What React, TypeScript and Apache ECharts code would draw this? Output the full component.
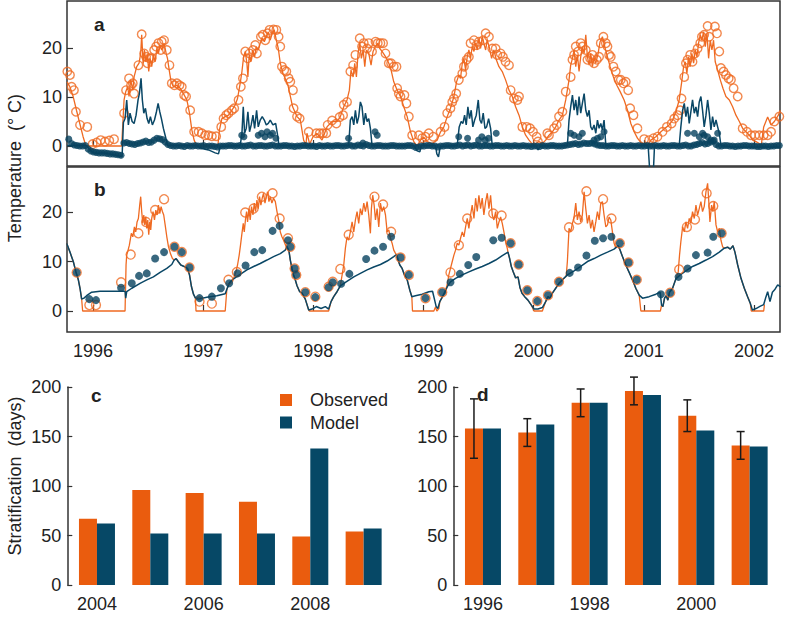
import React, { useEffect, useRef } from 'react';
import * as echarts from 'echarts';

// ---------- Panel c / d data ----------
const cYears = ['2004', '2005', '2006', '2007', '2008', '2009'];
const cObserved = [67, 96, 93, 84, 49, 54];
const cModel = [62, 52, 52, 52, 138, 57];

const dYears = ['1996', '1997', '1998', '1999', '2000', '2001'];
const dObserved = [158, 154, 184, 196, 171, 141];
const dModel = [158, 162, 184, 192, 156, 140];
const dErrLow = [128, 140, 170, 182, 155, 127];
const dErrHigh = [188, 168, 198, 210, 187, 155];

const yearTicks = [1996, 1997, 1998, 1999, 2000, 2001, 2002];
const tempTicks = [0, 10, 20];

// ---------- Panel a data ----------
const aSurfModel = [
  [1995.765, 13.1], [1995.79, 12.1], [1995.82, 10.1], [1995.85, 7.3], [1995.88, 4.6], [1995.91, 1.9], [1995.936, 0], [1996.26, 0],
  [1996.282, 9.4], [1996.297, 11.1], [1996.315, 12.1], [1996.327, 10.1], [1996.342, 13.5], [1996.361, 11.4], [1996.373, 14.1],
  [1996.397, 16.2], [1996.418, 16.9], [1996.433, 18.9], [1996.442, 22.7], [1996.455, 16.9], [1996.467, 19.6], [1996.479, 17.2],
  [1996.494, 18.6], [1996.506, 15.2], [1996.518, 17.9], [1996.533, 16.2], [1996.548, 18.6], [1996.564, 17.2], [1996.579, 19.9],
  [1996.594, 18.9], [1996.609, 20.6], [1996.624, 19.6], [1996.645, 21.0], [1996.664, 18.9], [1996.676, 17.9], [1996.694, 15.2],
  [1996.709, 13.1], [1996.73, 12.1], [1996.761, 12.4], [1996.791, 11.8], [1996.821, 10.7], [1996.852, 9.4], [1996.876, 6.7],
  [1996.897, 3.3], [1996.918, 1.2], [1996.942, 0], [1997.133, 0], [1997.148, 3.3], [1997.17, 5.6], [1997.2, 6.0], [1997.23, 6.3],
  [1997.261, 7.3], [1997.291, 8.4], [1997.312, 9.7], [1997.336, 12.8], [1997.352, 15.2], [1997.367, 18.2], [1997.382, 19.3],
  [1997.397, 16.9], [1997.406, 14.1], [1997.418, 18.6], [1997.433, 17.2], [1997.448, 19.6], [1997.467, 18.2], [1997.482, 20.3],
  [1997.5, 19.6], [1997.518, 21.0], [1997.536, 22.0], [1997.555, 21.3], [1997.573, 22.3], [1997.591, 23.3], [1997.609, 21.6],
  [1997.627, 23.0], [1997.645, 23.7], [1997.664, 21.6], [1997.682, 19.9], [1997.7, 16.9], [1997.724, 14.8], [1997.745, 13.8],
  [1997.77, 12.4], [1997.812, 8.0], [1997.852, 6.0], [1997.882, 5.3], [1997.912, 1.2], [1997.933, 0.2], [1997.942, 2.6],
  [1997.967, 0.4], [1997.997, 1.9], [1998.033, 2.6], [1998.079, 1.2], [1998.124, 3.9], [1998.17, 5.0], [1998.215, 5.0],
  [1998.245, 6.0], [1998.276, 8.0], [1998.306, 9.4], [1998.327, 11.4], [1998.342, 15.5], [1998.361, 14.1], [1998.376, 16.9],
  [1998.391, 14.1], [1998.406, 18.9], [1998.421, 21.0], [1998.436, 17.9], [1998.452, 19.6], [1998.467, 16.2], [1998.482, 19.6],
  [1998.503, 18.9], [1998.524, 16.5], [1998.542, 19.3], [1998.564, 20.3], [1998.585, 21.0], [1998.603, 19.9], [1998.624, 19.3],
  [1998.645, 18.6], [1998.664, 17.9], [1998.685, 16.9], [1998.706, 15.5], [1998.73, 13.1], [1998.761, 11.4], [1998.791, 10.1],
  [1998.821, 8.0], [1998.852, 6.0], [1998.882, 2.9], [1998.912, 0.9], [1998.942, 0], [1998.973, 1.2], [1999.003, 1.8],
  [1999.033, 0.9], [1999.079, 0.5], [1999.124, 1.2], [1999.155, 2.9], [1999.185, 3.9], [1999.215, 6.0], [1999.245, 7.7],
  [1999.276, 10.1], [1999.3, 13.1], [1999.321, 14.5], [1999.336, 13.8], [1999.352, 16.9], [1999.367, 17.9], [1999.382, 15.5],
  [1999.397, 18.2], [1999.412, 19.6], [1999.427, 17.9], [1999.442, 20.3], [1999.458, 19.3], [1999.473, 21.0], [1999.488, 19.6],
  [1999.503, 22.0], [1999.518, 19.9], [1999.533, 22.3], [1999.548, 21.0], [1999.564, 19.6], [1999.579, 21.6], [1999.6, 19.9],
  [1999.618, 17.9], [1999.639, 19.6], [1999.661, 17.6], [1999.685, 16.2], [1999.715, 15.2], [1999.745, 13.5], [1999.776, 11.4],
  [1999.806, 10.1], [1999.836, 8.0], [1999.867, 6.3], [1999.897, 3.9], [1999.927, 2.2], [1999.958, 1.2], [1999.988, 0.4],
  [2000.018, 0.5], [2000.048, 0.9], [2000.079, 0.5], [2000.109, 1.2], [2000.139, 2.2], [2000.17, 2.9], [2000.2, 3.9],
  [2000.23, 5.3], [2000.261, 6.3], [2000.291, 9.4], [2000.321, 13.5], [2000.336, 16.5], [2000.352, 17.9], [2000.367, 19.6],
  [2000.382, 16.2], [2000.397, 18.6], [2000.412, 15.2], [2000.427, 18.2], [2000.442, 20.3], [2000.458, 18.9], [2000.473, 22.7],
  [2000.488, 18.2], [2000.503, 16.5], [2000.518, 18.9], [2000.533, 16.2], [2000.548, 17.9], [2000.564, 16.9], [2000.585, 18.9],
  [2000.603, 21.3], [2000.624, 22.3], [2000.645, 20.3], [2000.67, 18.2], [2000.694, 16.2], [2000.724, 14.1], [2000.755, 12.4],
  [2000.785, 11.1], [2000.821, 9.4], [2000.852, 7.3], [2000.882, 4.6], [2000.912, 2.9], [2000.942, 1.6], [2000.973, 0.7],
  [2001.003, 0.4], [2001.033, 0.2], [2001.064, 1.2], [2001.109, 1.9], [2001.155, 2.9], [2001.191, 3.6], [2001.23, 4.3],
  [2001.261, 5.3], [2001.291, 7.0], [2001.321, 9.4], [2001.342, 12.8], [2001.361, 16.2], [2001.376, 17.2], [2001.391, 14.8],
  [2001.406, 18.2], [2001.421, 16.2], [2001.436, 18.9], [2001.452, 16.9], [2001.467, 19.6], [2001.482, 18.2], [2001.497, 21.0],
  [2001.512, 22.7], [2001.527, 21.6], [2001.542, 23.3], [2001.558, 20.3], [2001.573, 23.0], [2001.588, 17.9], [2001.603, 21.6],
  [2001.618, 19.6], [2001.633, 21.6], [2001.648, 17.2], [2001.67, 15.5], [2001.694, 13.5], [2001.718, 11.8], [2001.745, 10.1],
  [2001.776, 9.4], [2001.806, 8.0], [2001.836, 6.3], [2001.867, 5.0], [2001.897, 3.6], [2001.927, 2.9], [2001.958, 2.2],
  [2001.988, 1.2], [2002.018, 0.9], [2002.048, 0.5], [2002.065, 0], [2002.088, 3.9], [2002.124, 5.9], [2002.155, 4.3],
  [2002.185, 5.0], [2002.221, 6.3], [2002.239, 7.3],
];

const aSurfObs = [
  [1995.767, 15.2], [1995.791, 14.5], [1995.806, 12.1], [1995.827, 11.4], [1995.845, 7.0], [1995.882, 4.3], [1995.948, 3.9],
  [1995.997, 0.4], [1996.033, 0.7], [1996.07, 1.2], [1996.109, 0.9], [1996.148, 1.1], [1996.191, 1.4], [1996.282, 6.7],
  [1996.3, 11.4], [1996.327, 13.8], [1996.345, 12.4], [1996.361, 12.8], [1996.373, 10.7], [1996.412, 16.5], [1996.442, 22.8],
  [1996.464, 18.9], [1996.482, 18.2], [1996.494, 16.9], [1996.512, 17.9], [1996.533, 17.9], [1996.555, 19.6], [1996.573, 20.3],
  [1996.594, 21.0], [1996.615, 19.6], [1996.624, 21.3], [1996.645, 21.6], [1996.67, 19.6], [1996.694, 16.5], [1996.715, 12.8],
  [1996.739, 12.4], [1996.761, 12.8], [1996.785, 12.4], [1996.806, 12.1], [1996.827, 10.4], [1996.845, 10.1], [1996.882, 7.3],
  [1996.918, 2.9], [1996.958, 2.9], [1996.988, 2.6], [1997.018, 2.2], [1997.048, 2.2], [1997.079, 2.0], [1997.118, 2.0],
  [1997.164, 3.9], [1997.185, 5.6], [1997.209, 6.3], [1997.23, 6.7], [1997.261, 7.3], [1997.282, 7.7], [1997.321, 9.4],
  [1997.342, 12.1], [1997.361, 13.8], [1997.382, 19.3], [1997.403, 17.9], [1997.421, 18.9], [1997.452, 19.6], [1997.473, 20.6],
  [1997.488, 18.9], [1997.524, 22.3], [1997.542, 22.7], [1997.564, 21.6], [1997.585, 23.0], [1997.603, 23.7], [1997.639, 23.8],
  [1997.664, 23.7], [1997.685, 22.3], [1997.7, 20.3], [1997.715, 16.2], [1997.736, 15.5], [1997.755, 15.2], [1997.776, 13.8],
  [1997.791, 13.1], [1997.815, 11.4], [1997.821, 7.7], [1997.852, 6.0], [1997.876, 5.6], [1997.958, 2.9], [1998.027, 2.6],
  [1998.058, 2.6], [1998.088, 2.6], [1998.118, 2.6], [1998.13, 4.3], [1998.17, 5.2], [1998.209, 4.6], [1998.239, 5.9],
  [1998.27, 6.3], [1998.276, 8.4], [1998.306, 9.0], [1998.336, 15.2], [1998.361, 16.5], [1998.382, 18.6], [1998.421, 22.0],
  [1998.442, 20.3], [1998.458, 21.0], [1998.488, 19.9], [1998.503, 21.0], [1998.533, 19.3], [1998.564, 21.3], [1998.585, 21.0],
  [1998.609, 21.0], [1998.633, 21.0], [1998.655, 18.9], [1998.685, 16.9], [1998.706, 16.9], [1998.73, 16.2], [1998.755, 16.2],
  [1998.761, 11.8], [1998.776, 10.7], [1998.791, 10.1], [1998.827, 10.4], [1998.845, 8.7], [1998.867, 6.0], [1998.897, 2.2],
  [1998.958, 2.2], [1998.988, 1.6], [1999.018, 1.9], [1999.048, 2.6], [1999.088, 1.9], [1999.155, 2.9], [1999.191, 3.9],
  [1999.215, 6.7], [1999.245, 7.7], [1999.261, 9.0], [1999.276, 9.7], [1999.297, 10.7], [1999.321, 13.5], [1999.352, 14.8],
  [1999.367, 16.2], [1999.391, 17.6], [1999.412, 18.2], [1999.427, 21.0], [1999.458, 21.6], [1999.482, 20.6], [1999.503, 21.3],
  [1999.542, 21.6], [1999.564, 23.0], [1999.594, 22.3], [1999.624, 19.9], [1999.655, 19.9], [1999.67, 18.6], [1999.7, 18.9],
  [1999.721, 18.2], [1999.745, 17.2], [1999.776, 16.5], [1999.791, 11.4], [1999.821, 9.7], [1999.852, 9.4], [1999.867, 10.1],
  [1999.897, 3.9], [1999.936, 3.9], [1999.967, 3.6], [1999.994, 2.9], [2000.027, 1.9], [2000.039, 0.9], [2000.124, 2.6],
  [2000.139, 2.2], [2000.185, 3.6], [2000.209, 4.3], [2000.23, 6.0], [2000.261, 7.0], [2000.291, 11.1], [2000.336, 14.1],
  [2000.352, 17.6], [2000.367, 18.6], [2000.382, 20.3], [2000.403, 19.3], [2000.427, 21.0], [2000.442, 20.3], [2000.473, 19.6],
  [2000.488, 17.6], [2000.512, 17.9], [2000.533, 18.6], [2000.548, 16.9], [2000.573, 17.6], [2000.594, 18.2], [2000.609, 21.0],
  [2000.633, 22.3], [2000.655, 21.0], [2000.67, 20.3], [2000.685, 18.6], [2000.7, 18.2], [2000.724, 16.2], [2000.745, 15.2],
  [2000.77, 13.5], [2000.791, 13.5], [2000.815, 12.8], [2000.836, 13.1], [2000.858, 11.4], [2000.876, 7.7], [2000.906, 6.3],
  [2000.942, 3.6], [2001.003, 1.4], [2001.048, 1.2], [2001.088, 1.6], [2001.124, 1.9], [2001.17, 2.9], [2001.209, 3.9],
  [2001.252, 4.6], [2001.276, 5.6], [2001.306, 6.3], [2001.33, 7.3], [2001.342, 9.7], [2001.367, 14.1], [2001.382, 16.9],
  [2001.397, 17.6], [2001.421, 18.6], [2001.442, 17.2], [2001.464, 18.9], [2001.488, 19.9], [2001.512, 21.0], [2001.527, 22.3],
  [2001.548, 22.7], [2001.579, 24.5], [2001.594, 22.3], [2001.645, 24.4], [2001.664, 23.0], [2001.685, 19.3], [2001.7, 15.9],
  [2001.724, 15.2], [2001.745, 14.5], [2001.77, 13.8], [2001.791, 13.5], [2001.815, 11.8], [2001.852, 10.1], [2001.897, 3.6],
  [2001.936, 2.9], [2001.973, 2.2], [2002.009, 2.2], [2002.048, 2.2], [2002.088, 2.2], [2002.124, 2.2], [2002.155, 2.9],
  [2002.185, 5.0], [2002.23, 6.0],
];

const aBotModel = [
  [1995.765, 0.1], [1995.942, 0.1], [1995.973, -0.8], [1996.003, -1.4], [1996.048, -1.5], [1996.094, -1.4], [1996.139, -1.6],
  [1996.185, -1.8], [1996.23, -2.0], [1996.264, -2.2], [1996.276, 4.8], [1996.291, 5.6], [1996.306, 9.4], [1996.321, 4.3],
  [1996.336, 6.7], [1996.355, 5.0], [1996.373, 4.6], [1996.391, 6.3], [1996.409, 9.4], [1996.421, 10.7], [1996.436, 13.8],
  [1996.448, 9.4], [1996.461, 6.7], [1996.476, 7.7], [1996.491, 5.6], [1996.506, 4.6], [1996.521, 6.0], [1996.539, 4.3],
  [1996.558, 5.3], [1996.576, 7.0], [1996.591, 8.7], [1996.606, 7.0], [1996.621, 5.6], [1996.639, 3.6], [1996.658, 1.9],
  [1996.676, 0.1], [1996.942, 0.1], [1996.988, -0.5], [1997.048, -0.8], [1997.109, -1.4], [1997.139, -1.6], [1997.155, -0.1],
  [1997.336, 0.1], [1997.352, 2.6], [1997.364, 8.0], [1997.376, 2.6], [1997.391, 3.6], [1997.406, 7.0], [1997.421, 2.9],
  [1997.436, 4.3], [1997.452, 6.3], [1997.467, 3.6], [1997.485, 7.3], [1997.5, 3.9], [1997.518, 5.3], [1997.536, 6.0],
  [1997.555, 5.3], [1997.573, 4.3], [1997.591, 4.6], [1997.609, 5.3], [1997.633, 4.3], [1997.658, 4.6], [1997.673, 2.6],
  [1997.688, 0.1], [1998.321, 0.1], [1998.336, 5.3], [1998.352, 6.0], [1998.367, 4.3], [1998.382, 7.3], [1998.397, 4.6],
  [1998.412, 6.0], [1998.427, 9.0], [1998.442, 8.0], [1998.458, 4.3], [1998.473, 6.7], [1998.488, 5.0], [1998.503, 5.6],
  [1998.518, 3.6], [1998.533, 0.1], [1998.912, 0.1], [1998.942, -1.0], [1998.967, -1.2], [1998.979, 0.1], [1999.109, 0.1],
  [1999.121, -1.6], [1999.136, -2.2], [1999.152, -0.1], [1999.306, 0.1], [1999.324, 3.9], [1999.342, 5.0], [1999.358, 4.6],
  [1999.373, 6.3], [1999.388, 4.3], [1999.403, 8.0], [1999.418, 5.6], [1999.433, 7.3], [1999.448, 3.9], [1999.464, 5.3],
  [1999.479, 6.3], [1999.497, 9.4], [1999.512, 5.3], [1999.527, 4.6], [1999.542, 6.7], [1999.558, 3.6], [1999.573, 3.9],
  [1999.591, 5.6], [1999.609, 3.6], [1999.624, 0.1], [2000.02, 0.0], [2000.04, -0.8], [2000.06, 0.0], [2000.306, 0.1],
  [2000.321, 5.3], [2000.336, 8.0], [2000.352, 10.4], [2000.367, 7.3], [2000.382, 9.4], [2000.397, 6.3], [2000.412, 10.1],
  [2000.427, 6.7], [2000.442, 8.7], [2000.458, 10.7], [2000.473, 7.3], [2000.488, 6.0], [2000.503, 7.3], [2000.518, 3.9],
  [2000.533, 3.3], [2000.548, 4.3], [2000.564, 2.6], [2000.579, 5.3], [2000.594, 3.6], [2000.609, 4.6], [2000.624, 3.3],
  [2000.639, 5.3], [2000.655, 0.1], [2001.039, 0.1], [2001.052, -4.5], [2001.088, -4.5], [2001.097, 0.1], [2001.321, 0.1],
  [2001.336, 3.9], [2001.352, 7.3], [2001.367, 8.7], [2001.382, 6.0], [2001.397, 8.0], [2001.412, 4.6], [2001.427, 7.0],
  [2001.442, 9.4], [2001.458, 6.7], [2001.473, 8.0], [2001.488, 6.0], [2001.503, 9.0], [2001.518, 10.1], [2001.533, 7.3],
  [2001.548, 3.9], [2001.564, 6.3], [2001.579, 9.4], [2001.594, 6.7], [2001.609, 3.3], [2001.624, 6.0], [2001.639, 3.9],
  [2001.655, 5.3], [2001.67, 3.9], [2001.685, 2.6], [2001.7, 0.1], [2001.8, -0.2], [2002.236, -0.2],
];

const aBotObs = [
  [1995.78, 1.4], [1995.83, 0.2], [1995.88, 0.0], [1995.93, 0.1], [1995.98, -1.0], [1996.03, -1.3], [1996.08, -1.4],
  [1996.13, -1.5], [1996.18, -1.6], [1996.23, -1.8], [1996.28, 0.6], [1996.33, 0.5], [1996.38, 0.3], [1996.43, 0.6],
  [1996.48, 1.0], [1996.53, 0.8], [1996.58, 1.6], [1996.63, 1.3], [1996.68, 0.3], [1996.73, 0.0], [1996.78, 0.1],
  [1996.83, -0.1], [1996.88, 0.0], [1996.93, 0.1], [1996.98, 0.0], [1997.03, -0.1], [1997.08, 0.0], [1997.13, -0.2],
  [1997.18, 0.0], [1997.23, 0.1], [1997.28, 0.0], [1997.33, 0.1], [1997.38, 0.0], [1997.43, 0.2], [1997.48, 0.0],
  [1997.53, 0.1], [1997.58, 0.0], [1997.63, 0.2], [1997.68, 0.0], [1997.73, 0.1], [1997.78, 0.0], [1997.83, -0.1],
  [1997.88, 0.0], [1997.93, 0.1], [1997.98, 0.0], [1998.03, -0.1], [1998.08, 0.0], [1998.13, 0.1], [1998.18, 0.0],
  [1998.23, 0.1], [1998.28, 0.0], [1998.33, 0.2], [1998.38, 0.0], [1998.43, 0.1], [1998.48, 0.3], [1998.53, 0.0],
  [1998.58, 0.1], [1998.63, 0.0], [1998.68, 0.0], [1998.73, 0.1], [1998.78, 0.0], [1998.83, 0.0], [1998.88, 0.1],
  [1998.93, -0.3], [1998.98, 0.0], [1999.03, 0.1], [1999.08, 0.0], [1999.13, -0.2], [1999.18, 0.0], [1999.23, 0.1],
  [1999.28, 0.0], [1999.33, 0.2], [1999.38, 0.1], [1999.43, 0.0], [1999.48, 0.2], [1999.53, 0.0], [1999.58, 0.1],
  [1999.63, 0.0], [1999.68, 0.1], [1999.73, 0.0], [1999.78, 0.0], [1999.83, 0.1], [1999.88, 0.0], [1999.93, 0.0],
  [1999.98, -0.1], [2000.03, 0.0], [2000.08, 0.1], [2000.13, 0.0], [2000.18, 0.1], [2000.23, 0.0], [2000.28, 0.1],
  [2000.33, 0.3], [2000.38, 0.5], [2000.43, 0.4], [2000.48, 0.5], [2000.53, 0.6], [2000.58, 0.2], [2000.63, 0.1],
  [2000.68, 0.0], [2000.73, 0.1], [2000.78, 0.0], [2000.83, 0.0], [2000.88, 0.1], [2000.93, 0.0], [2000.98, 0.0],
  [2001.03, 0.1], [2001.08, 0.0], [2001.13, 0.0], [2001.18, 0.1], [2001.23, 0.0], [2001.28, 0.1], [2001.33, 0.0],
  [2001.38, 0.2], [2001.43, 0.0], [2001.48, 0.3], [2001.53, 0.7], [2001.58, 0.5], [2001.63, 1.0], [2001.68, 0.0],
  [2001.73, 0.1], [2001.78, 0.0], [2001.83, -0.1], [2001.88, 0.0], [2001.93, 0.1], [2001.98, 0.0], [2002.03, -0.1],
  [2002.08, 0.0], [2002.13, -0.1], [2002.18, 0.0], [2002.23, 0.1],
  [1995.805, 0.5], [1995.855, 0.1], [1995.905, 0.0], [1995.955, -0.6], [1996.005, -1.2], [1996.055, -1.4], [1996.105, -1.4],
  [1996.155, -1.6], [1996.205, -1.7], [1996.255, -1.9], [1996.305, 0.7], [1996.355, 0.4], [1996.405, 0.5], [1996.455, 0.8],
  [1996.505, 0.7], [1996.555, 1.2], [1996.605, 1.5], [1996.655, 0.8], [1996.705, 0.1], [1996.755, 0.0], [1996.805, 0.0],
  [1996.855, 0.1], [1996.905, 0.0], [1996.955, 0.0], [1997.005, 0.1], [1997.055, 0.0], [1997.105, -0.1], [1997.155, 0.0],
  [1997.205, 0.0], [1997.255, 0.1], [1997.305, 0.0], [1997.355, 0.0], [1997.405, 0.1], [1997.455, 0.0], [1997.505, 0.1],
  [1997.555, 0.0], [1997.605, 0.1], [1997.655, 0.0], [1997.705, 0.0], [1997.755, 0.1], [1997.805, 0.0], [1997.855, 0.0],
  [1997.905, 0.1], [1997.955, 0.0], [1998.005, 0.0], [1998.055, 0.1], [1998.105, 0.0], [1998.155, 0.0], [1998.205, 0.1],
  [1998.255, 0.0], [1998.305, 0.1], [1998.355, 0.0], [1998.405, 0.2], [1998.455, 0.0], [1998.505, 0.1], [1998.555, 0.0],
  [1998.605, 0.1], [1998.655, 0.0], [1998.705, 0.1], [1998.755, 0.0], [1998.805, 0.0], [1998.855, 0.1], [1998.905, 0.0],
  [1998.955, -0.2], [1999.005, 0.0], [1999.055, 0.1], [1999.105, 0.0], [1999.155, 0.0], [1999.205, 0.1], [1999.255, 0.0],
  [1999.305, 0.1], [1999.355, 0.0], [1999.405, 0.2], [1999.455, 0.1], [1999.505, 0.0], [1999.555, 0.1], [1999.605, 0.0],
  [1999.655, 0.1], [1999.705, 0.0], [1999.755, 0.1], [1999.805, 0.0], [1999.855, 0.0], [1999.905, 0.1], [1999.955, 0.0],
  [2000.005, 0.0], [2000.055, -0.1], [2000.105, 0.0], [2000.155, 0.1], [2000.205, 0.0], [2000.255, 0.0], [2000.305, 0.2],
  [2000.355, 0.4], [2000.405, 0.3], [2000.455, 0.6], [2000.505, 0.5], [2000.555, 0.4], [2000.605, 0.1], [2000.655, 0.0],
  [2000.705, 0.1], [2000.755, 0.0], [2000.805, 0.1], [2000.855, 0.0], [2000.905, 0.0], [2000.955, 0.1], [2001.005, 0.0],
  [2001.055, 0.0], [2001.105, 0.1], [2001.155, 0.0], [2001.205, 0.0], [2001.255, 0.1], [2001.305, 0.0], [2001.355, 0.1],
  [2001.405, 0.0], [2001.455, 0.2], [2001.505, 0.5], [2001.555, 0.4], [2001.605, 0.8], [2001.655, 0.3], [2001.705, 0.0],
  [2001.755, 0.1], [2001.805, 0.0], [2001.855, 0.0], [2001.905, 0.1], [2001.955, 0.0], [2002.005, 0.0], [2002.055, -0.1],
  [2002.105, 0.0], [2002.155, 0.0], [2002.205, 0.1],
  [1997.35, 2.2], [1997.37, 1.9], [1997.5, 2.2], [1997.53, 2.6], [1997.56, 1.9], [1997.58, 2.9], [1997.61, 2.2],
  [1997.63, 2.6], [1997.66, 1.6],
  [1998.32, 1.6], [1998.45, 0.6], [1998.56, 2.9], [1998.58, 2.2],
  [1999.32, 1.9], [1999.4, 1.6], [1999.5, 1.2], [1999.53, 1.9], [1999.56, 1.2], [1999.59, 1.6], [1999.66, 2.6],
  [2000.336, 2.6], [2000.367, 2.2], [2000.412, 1.9], [2000.442, 2.6], [2000.548, 1.2], [2000.579, 1.6], [2000.609, 1.9],
  [2000.639, 2.9],
  [2001.397, 2.6], [2001.458, 2.6], [2001.503, 1.9], [2001.533, 2.6], [2001.548, 2.2], [2001.579, 1.9], [2001.609, 1.2],
  [2001.639, 1.2], [2001.67, 2.6],
];

// ---------- Panel b data ----------
const bSurfModel = [
  [1995.761, 13.7], [1995.791, 11.9], [1995.821, 10.0], [1995.845, 7.9], [1995.867, 6.3], [1995.882, 4.6], [1995.897, 2.4],
  [1995.906, 0], [1996.291, 0], [1996.3, 9.3], [1996.306, 11.3], [1996.315, 12.0], [1996.33, 13.3], [1996.348, 15.7],
  [1996.361, 15.0], [1996.376, 17.0], [1996.388, 16.0], [1996.4, 18.0], [1996.412, 18.7], [1996.424, 21.4], [1996.433, 23.1],
  [1996.442, 20.1], [1996.452, 17.7], [1996.461, 19.4], [1996.47, 17.4], [1996.479, 19.1], [1996.488, 16.7], [1996.497, 18.4],
  [1996.506, 15.4], [1996.515, 18.0], [1996.524, 16.4], [1996.533, 18.7], [1996.545, 20.1], [1996.558, 18.4], [1996.57, 20.4],
  [1996.582, 19.4], [1996.594, 21.4], [1996.606, 19.7], [1996.618, 21.1], [1996.63, 20.1], [1996.642, 19.4], [1996.655, 17.4],
  [1996.67, 15.0], [1996.685, 13.0], [1996.703, 11.6], [1996.721, 10.6], [1996.736, 10.3], [1996.755, 10.6], [1996.773, 10.0],
  [1996.797, 9.3], [1996.827, 9.0], [1996.858, 8.6], [1996.876, 7.3], [1996.894, 4.9], [1996.912, 3.4], [1996.93, 2.6],
  [1996.935, 0], [1997.2, 0], [1997.215, 4.4], [1997.245, 5.9], [1997.276, 6.6], [1997.297, 7.9], [1997.312, 9.3],
  [1997.327, 11.3], [1997.339, 13.3], [1997.352, 15.7], [1997.364, 17.7], [1997.373, 16.0], [1997.385, 18.7], [1997.394, 20.1],
  [1997.403, 18.0], [1997.415, 20.7], [1997.427, 18.4], [1997.439, 21.1], [1997.452, 19.4], [1997.464, 21.8], [1997.476, 20.1],
  [1997.488, 22.4], [1997.5, 20.7], [1997.512, 23.1], [1997.524, 21.4], [1997.536, 22.8], [1997.548, 23.8], [1997.561, 21.8],
  [1997.573, 23.1], [1997.585, 24.1], [1997.597, 22.1], [1997.609, 23.1], [1997.624, 21.8], [1997.639, 22.8], [1997.655, 22.1],
  [1997.67, 20.1], [1997.685, 18.4], [1997.7, 16.0], [1997.715, 15.0], [1997.73, 14.3], [1997.748, 13.3], [1997.761, 13.0],
  [1997.779, 12.1], [1997.791, 10.3], [1997.806, 8.6], [1997.821, 7.3], [1997.836, 6.3], [1997.852, 5.1], [1997.876, 3.9],
  [1997.897, 3.6], [1997.927, 2.4], [1997.958, 0.2], [1997.965, 0], [1998.139, 0], [1998.161, 1.9], [1998.185, 2.9],
  [1998.215, 3.9], [1998.245, 5.1], [1998.276, 9.3], [1998.291, 12.7], [1998.306, 15.0], [1998.321, 14.3], [1998.336, 16.0],
  [1998.352, 18.0], [1998.367, 16.0], [1998.382, 18.4], [1998.397, 20.1], [1998.412, 17.7], [1998.427, 20.7], [1998.442, 19.4],
  [1998.458, 21.8], [1998.473, 20.1], [1998.488, 22.1], [1998.503, 19.4], [1998.518, 15.7], [1998.527, 20.7], [1998.539, 23.4],
  [1998.552, 21.4], [1998.564, 18.4], [1998.579, 20.7], [1998.594, 17.0], [1998.609, 21.8], [1998.624, 20.1], [1998.639, 21.1],
  [1998.655, 19.4], [1998.67, 16.0], [1998.685, 16.4], [1998.7, 14.7], [1998.715, 13.7], [1998.73, 12.3], [1998.745, 11.7],
  [1998.755, 11.4], [1998.77, 10.3], [1998.785, 9.3], [1998.806, 8.6], [1998.827, 7.3], [1998.852, 6.3], [1998.876, 4.2],
  [1998.894, 2.9], [1998.9, 0], [1999.094, 0], [1999.109, 0.8], [1999.121, 0], [1999.14, 0.5], [1999.148, 1.9],
  [1999.173, 2.9], [1999.197, 4.0], [1999.215, 5.3], [1999.23, 7.3], [1999.245, 8.6], [1999.261, 10.0], [1999.276, 11.3],
  [1999.291, 12.3], [1999.306, 13.7], [1999.321, 13.3], [1999.336, 14.7], [1999.352, 16.0], [1999.367, 15.0], [1999.382, 17.0],
  [1999.397, 18.7], [1999.412, 16.7], [1999.427, 19.4], [1999.442, 21.4], [1999.458, 18.7], [1999.473, 22.8], [1999.488, 20.1],
  [1999.503, 23.4], [1999.518, 20.7], [1999.533, 22.8], [1999.548, 19.4], [1999.564, 22.1], [1999.579, 23.8], [1999.594, 20.7],
  [1999.609, 23.4], [1999.624, 19.4], [1999.639, 18.4], [1999.655, 20.1], [1999.67, 16.7], [1999.685, 18.0], [1999.7, 19.0],
  [1999.715, 17.7], [1999.73, 16.0], [1999.745, 14.0], [1999.761, 12.6], [1999.767, 11.9], [1999.782, 10.6], [1999.797, 9.0],
  [1999.815, 7.9], [1999.836, 6.7], [1999.858, 6.9], [1999.876, 4.7], [1999.894, 3.6], [1999.918, 2.9], [1999.948, 2.2],
  [1999.979, 1.2], [2000.003, 0], [2000.079, 0], [2000.109, 1.9], [2000.13, 2.9], [2000.148, 2.6], [2000.17, 3.6],
  [2000.2, 4.6], [2000.23, 5.6], [2000.261, 6.3], [2000.295, 7.0], [2000.306, 10.0], [2000.321, 16.7], [2000.336, 16.0],
  [2000.352, 17.7], [2000.367, 19.0], [2000.382, 21.8], [2000.397, 18.4], [2000.412, 20.1], [2000.427, 18.0], [2000.442, 19.4],
  [2000.458, 24.1], [2000.473, 20.7], [2000.488, 17.7], [2000.503, 19.4], [2000.518, 16.7], [2000.533, 18.4], [2000.548, 16.0],
  [2000.564, 18.0], [2000.579, 20.1], [2000.594, 18.4], [2000.609, 21.8], [2000.624, 22.1], [2000.639, 19.4], [2000.655, 17.0],
  [2000.67, 17.4], [2000.685, 19.0], [2000.7, 18.4], [2000.715, 16.0], [2000.73, 13.7], [2000.745, 12.8], [2000.767, 13.2],
  [2000.785, 12.3], [2000.806, 11.0], [2000.836, 9.3], [2000.867, 7.8], [2000.897, 6.3], [2000.927, 4.6], [2000.958, 3.2],
  [2000.973, 0], [2001.15, 0], [2001.161, 1.2], [2001.173, 0.9], [2001.188, 2.6], [2001.203, 3.1], [2001.218, 2.2],
  [2001.233, 3.8], [2001.261, 4.6], [2001.291, 6.5], [2001.312, 7.9], [2001.324, 11.3], [2001.336, 14.0], [2001.352, 17.0],
  [2001.367, 16.0], [2001.382, 18.0], [2001.397, 16.7], [2001.412, 18.7], [2001.427, 17.7], [2001.442, 20.1], [2001.458, 18.7],
  [2001.473, 21.4], [2001.488, 19.4], [2001.503, 20.7], [2001.518, 22.1], [2001.533, 20.1], [2001.548, 21.1], [2001.564, 24.1],
  [2001.579, 25.8], [2001.588, 22.8], [2001.6, 18.0], [2001.615, 21.4], [2001.627, 20.1], [2001.639, 22.1], [2001.655, 17.4],
  [2001.67, 16.0], [2001.685, 16.7], [2001.7, 14.3], [2001.715, 13.0], [2001.73, 12.7], [2001.761, 12.9], [2001.785, 12.5],
  [2001.809, 13.2], [2001.827, 11.9], [2001.852, 9.3], [2001.882, 6.6], [2001.912, 4.6], [2001.942, 2.9], [2001.967, 1.5],
  [2001.975, 0], [2002.088, 0], [2002.095, 1.3],
];

const bBotModel = [
  [1995.761, 13.7], [1995.791, 11.9], [1995.821, 10.0], [1995.845, 7.9], [1995.867, 6.3], [1995.882, 4.6], [1995.897, 2.4],
  [1995.918, 2.6], [1995.942, 3.1], [1995.988, 3.8], [1996.064, 4.0], [1996.185, 4.0], [1996.291, 4.0], [1996.297, 2.6],
  [1996.306, 3.9], [1996.352, 4.6], [1996.427, 5.6], [1996.488, 6.3], [1996.548, 6.9], [1996.609, 7.8], [1996.67, 8.6],
  [1996.715, 9.4], [1996.736, 10.3], [1996.755, 10.6], [1996.773, 10.0], [1996.797, 9.3], [1996.827, 9.0], [1996.858, 8.6],
  [1996.876, 7.3], [1996.894, 4.9], [1996.912, 3.4], [1996.93, 2.6], [1996.958, 2.4], [1997.033, 2.8], [1997.124, 3.1],
  [1997.2, 3.5], [1997.215, 4.4], [1997.236, 5.6], [1997.276, 6.5], [1997.336, 7.4], [1997.397, 8.3], [1997.458, 9.0],
  [1997.518, 9.6], [1997.579, 10.3], [1997.639, 11.0], [1997.7, 11.6], [1997.745, 12.3], [1997.761, 13.0], [1997.779, 12.1],
  [1997.791, 10.3], [1997.806, 8.6], [1997.821, 7.3], [1997.836, 6.3], [1997.852, 5.1], [1997.876, 3.9], [1997.897, 3.6],
  [1997.927, 2.4], [1997.958, 0.2], [1997.988, 0.4], [1998.027, 0.9], [1998.07, 0.5], [1998.109, 0.9], [1998.139, 0.4],
  [1998.161, 1.9], [1998.185, 2.9], [1998.215, 3.9], [1998.245, 5.1], [1998.291, 5.8], [1998.367, 6.9], [1998.427, 7.6],
  [1998.488, 8.3], [1998.548, 8.9], [1998.609, 9.4], [1998.67, 10.1], [1998.73, 11.0], [1998.755, 11.4], [1998.77, 10.3],
  [1998.785, 9.3], [1998.806, 8.6], [1998.827, 7.3], [1998.852, 6.3], [1998.876, 4.2], [1998.894, 2.9], [1998.927, 3.1],
  [1998.988, 3.4], [1999.048, 3.9], [1999.082, 4.0], [1999.097, 2.6], [1999.115, 0.9], [1999.13, 0.5], [1999.148, 1.9],
  [1999.173, 2.9], [1999.197, 4.0], [1999.221, 5.1], [1999.245, 5.9], [1999.291, 6.6], [1999.352, 7.3], [1999.412, 7.9],
  [1999.473, 8.5], [1999.533, 9.0], [1999.594, 9.6], [1999.655, 10.3], [1999.715, 11.2], [1999.767, 11.9], [1999.782, 10.6],
  [1999.797, 9.0], [1999.815, 7.9], [1999.836, 6.7], [1999.858, 6.9], [1999.876, 4.7], [1999.894, 3.6], [1999.918, 2.9],
  [1999.948, 2.2], [1999.979, 1.2], [2000.003, 0.4], [2000.039, 0.4], [2000.079, 0.7], [2000.109, 1.9], [2000.13, 2.9],
  [2000.148, 2.6], [2000.17, 3.6], [2000.2, 4.6], [2000.23, 5.6], [2000.261, 6.3], [2000.306, 7.3], [2000.367, 8.1],
  [2000.427, 9.0], [2000.488, 10.0], [2000.548, 10.6], [2000.609, 11.3], [2000.67, 11.9], [2000.73, 12.5], [2000.767, 13.2],
  [2000.785, 12.3], [2000.806, 11.0], [2000.836, 9.3], [2000.867, 7.8], [2000.897, 6.3], [2000.927, 4.6], [2000.958, 3.2],
  [2000.988, 2.6], [2001.048, 2.9], [2001.109, 3.4], [2001.148, 3.8], [2001.161, 1.2], [2001.173, 0.9], [2001.188, 2.6],
  [2001.203, 3.1], [2001.218, 2.2], [2001.233, 3.8], [2001.261, 4.6], [2001.291, 6.5], [2001.33, 7.3], [2001.382, 8.1],
  [2001.442, 9.0], [2001.503, 9.6], [2001.564, 10.3], [2001.624, 11.0], [2001.685, 11.9], [2001.73, 12.7], [2001.761, 12.9],
  [2001.785, 12.5], [2001.809, 13.2], [2001.827, 11.9], [2001.852, 9.3], [2001.882, 6.6], [2001.912, 4.6], [2001.942, 2.9],
  [2001.967, 1.5], [2001.985, 0.2], [2002.018, 0.5], [2002.058, 1.0], [2002.088, 1.3], [2002.109, 2.9], [2002.124, 3.9],
  [2002.145, 1.9], [2002.167, 3.8], [2002.191, 4.4], [2002.215, 5.3], [2002.239, 4.9],
];

const bSurfObs = [
  [1995.761, 14.7], [1995.852, 7.8], [1995.967, 1.2], [1996.027, 1.2], [1996.255, 5.8], [1996.342, 11.4], [1996.412, 15.7],
  [1996.482, 18.0], [1996.564, 20.4], [1996.645, 22.6], [1996.739, 13.0], [1996.806, 11.9], [1996.876, 8.8], [1996.967, 1.9],
  [1997.079, 1.5], [1997.23, 6.3], [1997.306, 7.9], [1997.382, 19.9], [1997.458, 20.7], [1997.533, 23.1], [1997.63, 23.8],
  [1997.694, 18.7], [1997.77, 14.7], [1997.791, 13.0], [1997.83, 8.6], [1997.845, 7.3], [1997.927, 3.8], [1998.018, 2.9],
  [1998.139, 4.9], [1998.176, 5.9], [1998.245, 8.5], [1998.321, 15.4], [1998.555, 23.1], [1998.633, 21.5], [1998.706, 16.0],
  [1998.791, 10.8], [1998.867, 7.3], [1999.018, 2.6], [1999.17, 3.8], [1999.245, 7.8], [1999.321, 13.3], [1999.397, 18.7],
  [1999.633, 19.7], [1999.709, 19.3], [1999.791, 13.7], [1999.864, 9.4], [1999.942, 4.2], [2000.033, 2.0], [2000.13, 3.2],
  [2000.23, 5.9], [2000.321, 16.9], [2000.403, 18.5], [2000.479, 24.2], [2000.63, 22.6], [2000.706, 18.7], [2000.782, 13.7],
  [2000.861, 9.8], [2000.936, 6.3], [2001.239, 3.7], [2001.321, 8.4], [2001.391, 17.0], [2001.464, 18.5], [2001.57, 23.8],
  [2001.63, 21.2], [2001.706, 15.7],
];

const bBotObs = [
  [1995.852, 7.8], [1995.967, 2.4], [1996.027, 2.2], [1996.255, 4.7], [1996.352, 5.6], [1996.418, 7.1], [1996.488, 7.6],
  [1996.564, 10.6], [1996.645, 11.9], [1996.739, 13.0], [1996.806, 11.9], [1996.876, 8.8], [1996.967, 2.6], [1997.079, 2.9],
  [1997.161, 4.6], [1997.236, 5.6], [1997.312, 7.6], [1997.385, 9.2], [1997.464, 11.9], [1997.536, 12.3], [1997.63, 16.2],
  [1997.694, 17.2], [1997.77, 14.3], [1997.791, 13.0], [1997.83, 8.6], [1997.845, 7.3], [1997.927, 3.8], [1998.018, 2.8],
  [1998.139, 4.8], [1998.176, 5.8], [1998.252, 5.5], [1998.327, 7.5], [1998.479, 10.5], [1998.555, 12.2], [1998.633, 13.0],
  [1998.706, 15.0], [1998.791, 10.8], [1998.867, 7.3], [1999.018, 2.6], [1999.17, 3.8], [1999.245, 5.8], [1999.33, 7.5],
  [1999.406, 9.3], [1999.479, 10.9], [1999.633, 14.3], [1999.709, 14.8], [1999.791, 13.7], [1999.864, 9.4], [1999.942, 4.2],
  [2000.033, 2.0], [2000.13, 3.2], [2000.23, 5.9], [2000.327, 7.7], [2000.403, 8.8], [2000.479, 11.2], [2000.555, 14.2],
  [2000.63, 14.7], [2000.706, 15.0], [2000.782, 13.7], [2000.861, 9.8], [2000.936, 6.3], [2001.155, 3.4], [2001.239, 3.7],
  [2001.315, 6.9], [2001.397, 8.6], [2001.473, 11.3], [2001.579, 11.8], [2001.63, 15.0], [2001.706, 15.7],
];

const FONT = '"Liberation Sans", Arial, Helvetica, sans-serif';
const LINE_ORANGE = '#EF6A22';
const LINE_BLUE = '#0A4766';
const DOT_BLUE = '#08425F';
const BAR_ORANGE = '#EA5C0E';
const BAR_BLUE = '#064866';
const AXIS = '#333333';
const TEXT = '#222222';

export default function App() {
  const ref = useRef<HTMLDivElement>(null);

  useEffect(() => {
    if (!ref.current) return;
    const chart = echarts.init(ref.current, undefined, { renderer: 'svg' });

    const timeAxis = (gridIndex: number, showLabels: boolean) => ({
      gridIndex,
      type: 'value',
      min: 1995.764,
      max: 2002.236,
      axisLine: { show: false },
      splitLine: { show: false },
      axisTick: {
        show: true,
        inside: true,
        length: 6,
        customValues: yearTicks,
        lineStyle: { color: AXIS, width: 1.2 },
      },
      axisLabel: {
        show: showLabels,
        customValues: yearTicks,
        formatter: (v: number) => String(Math.round(v)),
        fontSize: 18,
        color: TEXT,
        fontFamily: FONT,
        margin: 10,
      },
    });

    const tempAxis = (gridIndex: number, min: number, max: number) => ({
      gridIndex,
      type: 'value',
      min,
      max,
      axisLine: { show: false },
      splitLine: { show: false },
      axisTick: {
        show: true,
        inside: true,
        length: 6,
        customValues: tempTicks,
        lineStyle: { color: AXIS, width: 1.2 },
      },
      axisLabel: {
        show: true,
        customValues: tempTicks,
        fontSize: 18,
        color: TEXT,
        fontFamily: FONT,
        margin: 5,
      },
    });

    const catAxis = (gridIndex: number, data: string[]) => ({
      gridIndex,
      type: 'category',
      data,
      axisLine: { show: false },
      axisTick: { show: false },
      axisLabel: { interval: 1, fontSize: 18, color: TEXT, fontFamily: FONT, margin: 10 },
    });

    const daysAxis = (gridIndex: number) => ({
      gridIndex,
      type: 'value',
      min: 0,
      max: 200,
      interval: 50,
      offset: 3,
      splitLine: { show: false },
      axisLine: { show: true, lineStyle: { color: AXIS, width: 1.5 } },
      axisTick: { show: true, inside: true, length: 5, lineStyle: { color: AXIS, width: 1.2 } },
      axisLabel: { fontSize: 18, color: TEXT, fontFamily: FONT, margin: 6 },
    });

    const gridBox = { show: true, borderColor: AXIS, borderWidth: 1.5, backgroundColor: 'transparent' };
    const letter = (t: string, left: number, top: number) => ({
      type: 'text', left, top,
      style: { text: t, fontSize: 19, fontWeight: 'bold', fill: TEXT, fontFamily: FONT },
    });

    const option = {
      animation: false,
      textStyle: { fontFamily: FONT },
      grid: [
        { left: 67, top: 1, width: 713, height: 165, ...gridBox },
        { left: 67, top: 167, width: 713, height: 165, ...gridBox },
        { left: 70.3, top: 387, width: 320, height: 198 },
        { left: 456.3, top: 387, width: 320, height: 198 },
      ],
      xAxis: [timeAxis(0, false), timeAxis(1, true), catAxis(2, cYears), catAxis(3, dYears)],
      yAxis: [tempAxis(0, -4.08, 29.6), tempAxis(1, -4.24, 29.1), daysAxis(2), daysAxis(3)],
      legend: {
        data: ['Observed', 'Model'],
        orient: 'vertical',
        left: 275,
        top: 386,
        itemWidth: 12,
        itemHeight: 12,
        itemGap: 4.5,
        icon: 'rect',
        selectedMode: false,
        textStyle: { fontSize: 18, color: TEXT, fontFamily: FONT, lineHeight: 18, padding: [0, 0, 0, 13] },
      },
      graphic: [
        letter('a', 94, 15),
        letter('b', 94, 180),
        letter('c', 91, 386),
        letter('d', 477, 385),
        {
          type: 'text', x: 15, y: 168, rotation: Math.PI / 2,
          style: { text: 'Temperature  (° C)', fontSize: 18, fill: TEXT, fontFamily: FONT, align: 'center', verticalAlign: 'middle' },
        },
        {
          type: 'text', x: 15, y: 476, rotation: Math.PI / 2,
          style: { text: 'Stratification  (days)', fontSize: 18, fill: TEXT, fontFamily: FONT, align: 'center', verticalAlign: 'middle' },
        },
      ],
      series: [
        // Panel a
        { type: 'line', xAxisIndex: 0, yAxisIndex: 0, data: aSurfModel, symbol: 'none', lineStyle: { color: LINE_ORANGE, width: 1.3 }, z: 2 },
        {
          type: 'scatter', xAxisIndex: 0, yAxisIndex: 0, data: aSurfObs, symbol: 'circle', symbolSize: 8.5,
          itemStyle: { color: 'rgba(255,255,255,0)', borderColor: LINE_ORANGE, borderWidth: 1.4 }, z: 3,
        },
        { type: 'line', xAxisIndex: 0, yAxisIndex: 0, data: aBotModel, symbol: 'none', lineStyle: { color: LINE_BLUE, width: 1.5 }, z: 4 },
        { type: 'scatter', xAxisIndex: 0, yAxisIndex: 0, data: aBotObs, symbol: 'circle', symbolSize: 7, itemStyle: { color: DOT_BLUE }, z: 5 },
        // Panel b
        { type: 'line', xAxisIndex: 1, yAxisIndex: 1, data: bSurfModel, symbol: 'none', lineStyle: { color: LINE_ORANGE, width: 1.3 }, z: 2 },
        { type: 'line', xAxisIndex: 1, yAxisIndex: 1, data: bBotModel, symbol: 'none', lineStyle: { color: LINE_BLUE, width: 1.5 }, z: 3 },
        {
          type: 'scatter', xAxisIndex: 1, yAxisIndex: 1, data: bSurfObs, symbol: 'circle', symbolSize: 9,
          itemStyle: { color: 'rgba(255,255,255,0)', borderColor: LINE_ORANGE, borderWidth: 1.4 }, z: 4,
        },
        { type: 'scatter', xAxisIndex: 1, yAxisIndex: 1, data: bBotObs, symbol: 'circle', symbolSize: 8, itemStyle: { color: DOT_BLUE }, z: 5 },
        // Panel c
        { type: 'bar', name: 'Observed', xAxisIndex: 2, yAxisIndex: 2, data: cObserved, barWidth: 18, barGap: '0%', itemStyle: { color: BAR_ORANGE } },
        { type: 'bar', name: 'Model', xAxisIndex: 2, yAxisIndex: 2, data: cModel, barWidth: 18, barGap: '0%', itemStyle: { color: BAR_BLUE } },
        // Panel d
        { type: 'bar', name: 'Observed', xAxisIndex: 3, yAxisIndex: 3, data: dObserved, barWidth: 18, barGap: '0%', itemStyle: { color: BAR_ORANGE } },
        { type: 'bar', name: 'Model', xAxisIndex: 3, yAxisIndex: 3, data: dModel, barWidth: 18, barGap: '0%', itemStyle: { color: BAR_BLUE } },
        {
          type: 'custom',
          xAxisIndex: 3,
          yAxisIndex: 3,
          data: dErrLow.map((lo, i) => [i, lo, dErrHigh[i]]),
          encode: { x: 0, y: [1, 2] },
          z: 10,
          renderItem: (params: any, api: any) => {
            const idx = api.value(0);
            const x = api.coord([idx, 0])[0] - 9;
            const yLo = api.coord([idx, api.value(1)])[1];
            const yHi = api.coord([idx, api.value(2)])[1];
            const st = { stroke: '#1a1a1a', lineWidth: 1.5 };
            return {
              type: 'group',
              children: [
                { type: 'line', shape: { x1: x, y1: yHi, x2: x, y2: yLo }, style: st },
                { type: 'line', shape: { x1: x - 4, y1: yHi, x2: x + 4, y2: yHi }, style: st },
                { type: 'line', shape: { x1: x - 4, y1: yLo, x2: x + 4, y2: yLo }, style: st },
              ],
            };
          },
        },
      ],
    };

    chart.setOption(option as any);
    return () => chart.dispose();
  }, []);

  return (
    <div
      ref={ref}
      style={{ position: 'absolute', left: 0, top: 0, width: 787, height: 630, background: '#ffffff' }}
    />
  );
}
